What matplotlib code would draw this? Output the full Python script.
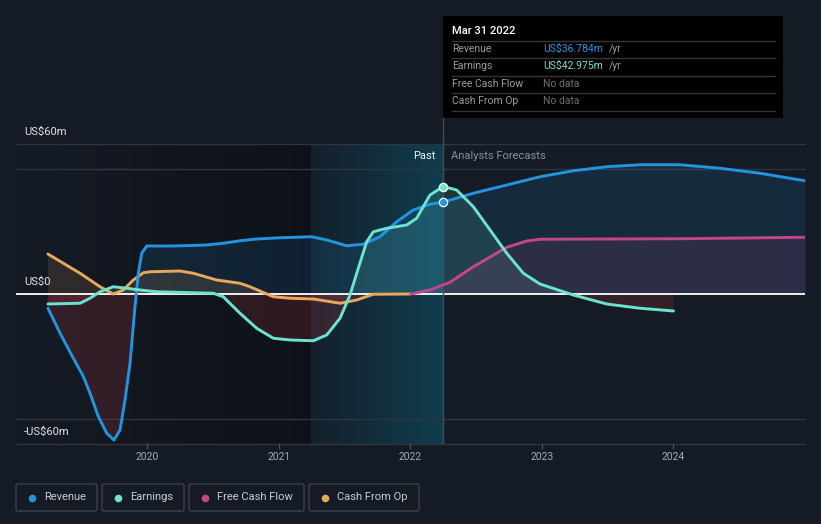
"""Revenue / Earnings chart (past + analyst forecasts)"""

import numpy as np
import matplotlib
matplotlib.use('Agg')
import matplotlib.pyplot as plt
from matplotlib.patches import Rectangle, FancyBboxPatch

plt.rcParams['font.family'] = ['Roboto', 'DejaVu Sans']

# データ（単位: US$m, x は年）
rev_x = [2019.243, 2019.335, 2019.436, 2019.512, 2019.563, 2019.626, 2019.690, 2019.745,
         2019.791, 2019.829, 2019.867, 2019.905, 2019.930, 2019.956, 2019.994, 2020.095,
         2020.196, 2020.450, 2020.576, 2020.703, 2020.830, 2021.008, 2021.249, 2021.363,
         2021.515, 2021.641, 2021.768, 2021.895, 2022.021, 2022.148, 2022.250, 2022.478,
         2022.732, 2022.985, 2023.238, 2023.492, 2023.745, 2024.049, 2024.354, 2024.658,
         2025.0]
rev_y = [-5.7, -15.7, -25.7, -33, -39.7, -49, -55.7, -58.4,
         -54.4, -42.4, -27.7, -5, 8.3, 16.3, 19.2, 19.2,
         19.2, 19.6, 20.3, 21.3, 22.0, 22.5, 22.9, 21.6,
         19.3, 19.9, 22.9, 28.9, 33.6, 35.9, 36.8, 40.3,
         43.6, 46.9, 49.3, 50.9, 51.7, 51.7, 50.3, 48.3,
         45.3]

earn_x = [2019.243, 2019.487, 2019.563, 2019.639, 2019.740, 2019.842, 2019.943, 2020.070,
          2020.500, 2020.576, 2020.703, 2020.830, 2020.957, 2021.084, 2021.261, 2021.363,
          2021.464, 2021.540, 2021.603, 2021.667, 2021.717, 2021.819, 2021.971, 2022.047,
          2022.148, 2022.250, 2022.351, 2022.478, 2022.605, 2022.732, 2022.858, 2022.985,
          2023.238, 2023.492, 2023.745, 2024.0]
earn_y = [-4, -3.7, -1.7, 0.9, 2.9, 2.3, 1.6, 0.9,
          0.3, -1.1, -7.7, -13.7, -17.7, -18.4, -18.7, -16.4,
          -9.7, -0.4, 10.3, 20.9, 24.9, 26.3, 27.6, 30.3,
          39.6, 43.0, 41.6, 34.9, 25.6, 16.3, 8.3, 4.0,
          -0.4, -4.0, -5.7, -6.8]

fcf_x = [2022.0, 2022.148, 2022.300, 2022.478, 2022.732, 2022.884, 2022.985, 2023.492,
         2024.049, 2025.0]
fcf_y = [0, 1.6, 4.7, 10.9, 18.7, 21.2, 21.9, 22.0, 22.1, 22.7]

cfo_x = [2019.243, 2019.360, 2019.487, 2019.639, 2019.740, 2019.816, 2019.892, 2019.968,
         2020.019, 2020.247, 2020.348, 2020.526, 2020.703, 2020.779, 2020.957, 2021.084,
         2021.261, 2021.464, 2021.591, 2021.717, 2022.0]
cfo_y = [16, 12.3, 8.3, 2.9, 0, 1.6, 5.6, 8.5,
         8.9, 9.2, 8.3, 5.6, 4.3, 2.9, -1.1, -1.7,
         -2.0, -3.7, -2.4, -0.1, 0]

year_ticks = [2020, 2021, 2022, 2023, 2024]
past_start = 2021.24
past_end = 2022.25
rev_now = 36.8
earn_now = 43.0

# 色
BG = '#151b25'
C_REV = '#2394df'
C_EARN = '#6de3cf'
C_FCF = '#c4468a'
C_CFO = '#e8a85b'
C_NEG = '#e0404a'
GRID = '#2f353f'

W, H = 821, 524
fig = plt.figure(figsize=(W / 100, H / 100), dpi=100, facecolor=BG)

ax = fig.add_axes([16 / W, 80 / H, 789 / W, 300 / H])
ax.set_facecolor('none')
ax.axis('off')

# 背景のグラデーション
dark = np.zeros((1, 200, 4))
dark[..., 3] = np.linspace(0.0, 0.35, 200)
ax.imshow(dark, extent=[2019.0, past_start, -60, 60], aspect='auto', zorder=0)
hl = np.zeros((1, 200, 4))
hl[..., 0], hl[..., 1], hl[..., 2] = 0.0, 0.62, 0.78
hl[..., 3] = np.linspace(0.04, 0.26, 200)
ax.imshow(hl, extent=[past_start, past_end, -60, 60], aspect='auto', zorder=0)

# グリッド
for yv in [60, 50, -50, -60]:
    ax.axhline(yv, color=GRID, lw=1, zorder=1, clip_on=False)

# 塗りつぶし
for xs, ys, c in [(rev_x, rev_y, C_REV), (earn_x, earn_y, C_EARN),
                  (fcf_x, fcf_y, C_FCF), (cfo_x, cfo_y, C_CFO)]:
    xs = np.array(xs)
    ys = np.array(ys)
    ax.fill_between(xs, ys, 0, where=ys >= 0, interpolate=True, color=c,
                    alpha=0.13, lw=0, zorder=2)
    ax.fill_between(xs, ys, 0, where=ys <= 0, interpolate=True, color=C_NEG,
                    alpha=0.16, lw=0, zorder=2)

ax.axhline(0, color='white', lw=1.3, zorder=3)

# 線
kw = dict(lw=2.1, solid_capstyle='round', solid_joinstyle='round')
ax.plot(cfo_x, cfo_y, color=C_CFO, zorder=4, **kw)
ax.plot(fcf_x, fcf_y, color=C_FCF, zorder=4, **kw)
ax.plot(rev_x, rev_y, color=C_REV, zorder=5, **kw)
ax.plot(earn_x, earn_y, color=C_EARN, zorder=5, **kw)

ax.axvline(past_end, color='#34535e', lw=1, zorder=3)
ax.scatter([past_end], [rev_now], s=36, color=C_REV, edgecolor='white', lw=0.9, zorder=6)
ax.scatter([past_end], [earn_now], s=36, color=C_EARN, edgecolor='white', lw=0.9, zorder=6)

# x 軸の目盛り
for yr in year_ticks:
    ax.plot([yr, yr], [-60, -61.6], color='#4a4f58', lw=1, clip_on=False, zorder=1)
    ax.text(yr, -65, str(yr), color='#a3a8b0', fontsize=7.5, ha='center', va='center')

ax.set_xlim(2019.0, 2025.0)
ax.set_ylim(-60, 60)

# ピクセル座標のオーバーレイ
ov = fig.add_axes([0, 0, 1, 1])
ov.set_xlim(0, W)
ov.set_ylim(H, 0)
ov.axis('off')
ov.patch.set_alpha(0)

ov.text(24, 132, 'US$60m', color='#e2e4e8', fontsize=8, va='center')
ov.text(24, 282, 'US$0', color='#e2e4e8', fontsize=8, va='center')
ov.text(24, 432, '-US$60m', color='#e2e4e8', fontsize=8, va='center')
ov.text(435, 156, 'Past', color='#f0f0f0', fontsize=8, ha='right', va='center')
ov.text(451, 156, 'Analysts Forecasts', color='#8b9098', fontsize=8, va='center')

# ツールチップ
ov.add_patch(Rectangle((443, 16), 340, 102, facecolor='#000000', edgecolor='none', zorder=1))
ov.plot([443, 443], [118, 144], color='#34535e', lw=1, zorder=1)
ov.text(452, 31, 'Mar 31 2022', color='white', fontsize=8, va='center', fontweight='medium', zorder=2)
for yy in [41, 58, 76, 93, 111]:
    ov.plot([452, 775], [yy, yy], color='#333538', lw=1, zorder=2)
rows = [('Revenue', 'US$36.784m', C_REV, 49), ('Earnings', 'US$42.975m', C_EARN, 66),
        ('Free Cash Flow', 'No data', '#6c6f74', 84), ('Cash From Op', 'No data', '#6c6f74', 101)]
for lab, val, col, yy in rows:
    ov.text(452, yy, lab, color='#9b9da1', fontsize=7.5, va='center', zorder=2)
    ov.text(543, yy, val, color=col, fontsize=7.5, va='center', zorder=2)
    if val != 'No data':
        ov.text(609, yy, '/yr', color='#9b9da1', fontsize=7.5, va='center', zorder=2)

# 凡例
legend_items = [('Revenue', C_REV, 16, 97), ('Earnings', C_EARN, 102, 184),
                ('Free Cash Flow', C_FCF, 189, 304), ('Cash From Op', C_CFO, 309, 419)]
for lab, col, x0, x1 in legend_items:
    ov.add_patch(FancyBboxPatch((x0, 484), x1 - x0, 27, boxstyle='round,pad=0,rounding_size=2',
                                facecolor='none', edgecolor='#3b4049', lw=1))
    ov.scatter([x0 + 16], [497.5], s=30, color=col, lw=0)
    ov.text(x0 + 28, 497.5, lab, color='#c9ccd1', fontsize=8, va='center')

fig.savefig('out.png', dpi=100, facecolor=BG)
